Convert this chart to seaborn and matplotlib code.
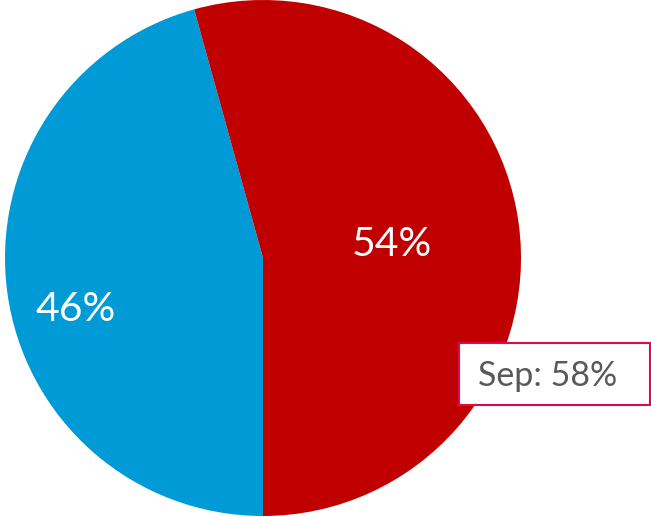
import matplotlib
matplotlib.use("Agg")
import matplotlib.pyplot as plt
import seaborn as sns
from matplotlib.patches import Rectangle

sns.set_style("white")
plt.rcParams['font.family'] = ['Lato', 'DejaVu Sans']

# data
segments = ["Other", "Main"]
shares = [45.7, 54.3]
seg_colors = ["#009ad6", "#c00000"]
callout_label = "Sep"
callout_value = 58

W, H = 651, 517
fig = plt.figure(figsize=(W / 100, H / 100), dpi=100)
ax = fig.add_axes([0, 0, 1, 1])

# pie centre at (263, 258) px, radius 258 px
R = 258.0
cx, cy = 263.0, 258.0
ax.pie(shares, colors=seg_colors, startangle=270, counterclock=False,
       radius=1, wedgeprops=dict(linewidth=0))
ax.set_xlim(-cx / R, (W - cx) / R)
ax.set_ylim(-(H - cy) / R, cy / R)
ax.set_aspect("auto")
ax.axis("off")

# percent labels (baseline positions)
label_pos = [(-0.725, -0.244), (0.50, 0.008)]
for (x, y), v in zip(label_pos, shares):
    ax.text(x, y, f"{round(v)}%", color="white", fontsize=29.5,
            ha="center", va="baseline")

# callout box (pixel coords -> figure fraction)
bx0, bx1, by0, by1 = 459, 650, 343, 405
fig.patches.append(Rectangle((bx0 / W, 1 - by1 / H), (bx1 - bx0) / W, (by1 - by0) / H,
                             transform=fig.transFigure, facecolor="white",
                             edgecolor="#dc0a4b", linewidth=1.5, zorder=5))
fig.text(478 / W, 1 - 386 / H,
         f"{callout_label}: {callout_value}%", color="#595959", fontsize=24.5,
         ha="left", va="baseline", zorder=6)

fig.savefig("out.png", dpi=100)
